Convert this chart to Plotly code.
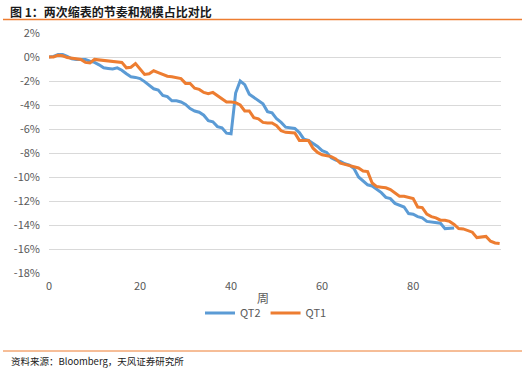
import plotly.graph_objects as go

title_text = "图 1：两次缩表的节奏和规模占比对比"
source_text = "资料来源：Bloomberg，天风证券研究所"
x_title = "周"

qt2_values = [0.0, 0.05, 0.2, 0.2, 0.05, -0.15, -0.2, -0.2, -0.2, -0.35,
              -0.45, -0.65, -0.9, -0.95, -1.0, -0.9, -1.1, -1.4, -1.65, -1.7,
              -1.8, -2.05, -2.35, -2.65, -2.75, -3.2, -3.3, -3.65, -3.65, -3.75,
              -3.95, -4.3, -4.5, -4.6, -4.85, -5.3, -5.4, -5.8, -5.9, -6.35,
              -6.4, -3.0, -2.0, -2.3, -3.1, -3.35, -3.6, -3.9, -4.55, -4.65,
              -5.15, -5.45, -5.85, -5.9, -5.95, -6.3, -6.85, -6.95, -7.2, -7.45,
              -7.8, -7.95, -8.4, -8.6, -8.7, -8.9, -9.0, -9.3, -10.0, -10.35,
              -10.65, -10.75, -11.0, -11.3, -11.7, -11.8, -12.2, -12.35, -12.5, -13.05,
              -13.1, -13.3, -13.4, -13.7, -13.75, -13.8, -13.85, -14.3, -14.3, -14.25]

qt1_values = [0.0, 0.0, 0.15, 0.1, -0.05, -0.1, -0.2, -0.2, -0.45, -0.5,
              -0.2, -0.25, -0.3, -0.35, -0.4, -0.45, -0.45, -0.9, -0.85, -0.55,
              -1.0, -1.45, -1.4, -1.15, -1.3, -1.45, -1.6, -1.65, -1.7, -1.8,
              -2.2, -2.2, -2.6, -2.7, -2.95, -3.05, -2.95, -3.2, -3.45, -3.75,
              -3.75, -3.8, -4.0, -4.5, -4.5, -5.05, -5.15, -5.45, -5.5, -5.5,
              -5.72, -6.15, -6.28, -6.28, -6.33, -6.95, -6.98, -6.95, -7.6, -7.95,
              -8.15, -8.22, -8.3, -8.5, -8.85, -8.95, -9.05, -9.15, -9.25, -9.5,
              -9.55, -10.5, -10.8, -10.85, -10.9, -11.05, -11.3, -11.6, -11.6, -11.7,
              -11.8, -12.5, -12.55, -13.1, -13.3, -13.4, -13.6, -13.6, -13.7, -13.95,
              -14.3, -14.33, -14.45, -14.6, -15.05, -15.0, -14.95, -15.35, -15.5, -15.55]

qt2_weeks = list(range(len(qt2_values)))
qt1_weeks = list(range(len(qt1_values)))

y_ticks = list(range(-18, 3, 2))
y_tick_labels = [f"{v}%" for v in y_ticks]
x_ticks = [0, 20, 40, 60, 80]

fig = go.Figure()
fig.add_trace(go.Scatter(x=qt2_weeks, y=qt2_values, mode="lines", name="QT2",
                         line=dict(color="#5B9BD5", width=3)))
fig.add_trace(go.Scatter(x=qt1_weeks, y=qt1_values, mode="lines", name="QT1",
                         line=dict(color="#ED7D31", width=3)))

W, H = 525, 368
L, R, T, B = 49, 24, 33, 95
pw, ph = W - L - R, H - T - B

def px(x):
    return (x - L) / pw

def py(y):
    return (H - B - y) / ph

fig.update_layout(
    width=W, height=H,
    margin=dict(l=L, r=R, t=T, b=B),
    paper_bgcolor="white", plot_bgcolor="white",
    font=dict(family="Noto Sans CJK SC, Noto Sans", color="#595959", size=11),
    showlegend=True,
    legend=dict(orientation="h", x=px(266), xanchor="center", y=py(313), yanchor="middle",
                font=dict(size=11, color="#595959"), itemwidth=30,
                bgcolor="rgba(0,0,0,0)"),
    xaxis=dict(range=[0, 99.3], tickvals=x_ticks, showgrid=False, zeroline=False,
               showline=False, ticks="", ticklabelstandoff=5,
               tickfont=dict(size=11, color="#595959")),
    yaxis=dict(range=[-18, 2], tickvals=y_ticks, ticktext=y_tick_labels, showgrid=True,
               gridcolor="#D9D9D9", gridwidth=1, zeroline=False, showline=False,
               ticks="", ticklabelstandoff=8,
               tickfont=dict(size=11, color="#595959")),
    annotations=[
        dict(text="<b>" + title_text + "</b>", xref="paper", yref="paper",
             x=px(8), y=py(11), xanchor="left", yanchor="middle", showarrow=False,
             font=dict(size=12, color="#1a1a1a", family="Noto Sans CJK SC")),
        dict(text=source_text, xref="paper", yref="paper",
             x=px(9), y=py(361), xanchor="left", yanchor="middle", showarrow=False,
             font=dict(size=9.5, color="#1a1a1a", family="Noto Sans CJK SC")),
        dict(text=x_title, xref="paper", yref="paper",
             x=px(263), y=py(297.5), xanchor="center", yanchor="middle", showarrow=False,
             font=dict(size=12, color="#595959", family="Noto Sans CJK SC")),
    ],
    shapes=[
        dict(type="line", xref="paper", yref="paper", x0=px(3), x1=px(522),
             y0=py(19.5), y1=py(19.5), line=dict(color="#ED7D31", width=1.5)),
        dict(type="line", xref="paper", yref="paper", x0=px(3), x1=px(522),
             y0=py(351), y1=py(351), line=dict(color="#ED7D31", width=1)),
    ],
)

fig.write_html("out.html", config={"displayModeBar": False},
               post_script="document.body.style.margin='0';document.body.style.padding='0';")
